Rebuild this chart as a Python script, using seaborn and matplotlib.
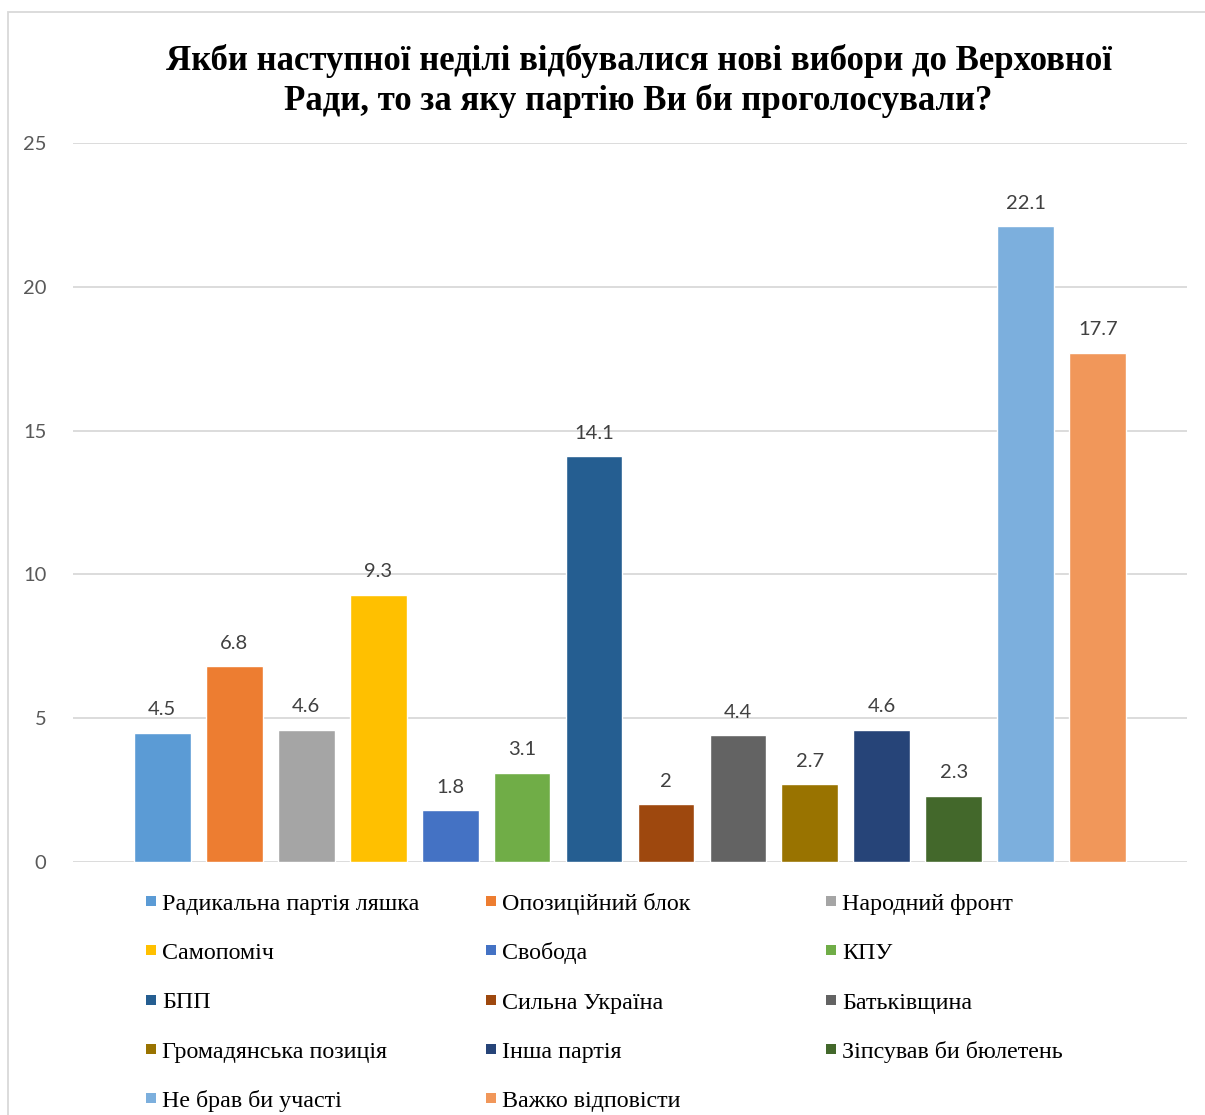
import matplotlib
matplotlib.use("Agg")
import matplotlib.pyplot as plt
from matplotlib.patches import Rectangle
import seaborn as sns
import pandas as pd

parties = ["Радикальна партія ляшка", "Опозиційний блок", "Народний фронт",
           "Самопоміч", "Свобода", "КПУ", "БПП", "Сильна Україна", "Батьківщина",
           "Громадянська позиція", "Інша партія", "Зіпсував би бюлетень",
           "Не брав би участі", "Важко відповісти"]
values = [4.5, 6.8, 4.6, 9.3, 1.8, 3.1, 14.1, 2, 4.4, 2.7, 4.6, 2.3, 22.1, 17.7]
colors = ["#5B9BD5", "#ED7D31", "#A5A5A5", "#FFC000", "#4472C4", "#70AD47",
          "#255E91", "#9E480E", "#636363", "#997300", "#264478", "#43682B",
          "#7CAFDD", "#F1975A"]
yticks = [0, 5, 10, 15, 20, 25]
title = "Якби наступної неділі відбувалися нові вибори до Верховної\nРади, то за яку партію Ви би проголосували?"

sns.set_theme(style="white")
plt.rcParams['font.family'] = ['Lato', 'DejaVu Sans']
serif = ["Liberation Serif", "DejaVu Serif"]

df = pd.DataFrame({"party": parties, "value": values})

W, H = 1205, 1115
fig = plt.figure(figsize=(W / 100, H / 100), dpi=100)
ax = fig.add_axes([73 / W, 1 - 862 / H, (1187 - 73) / W, (862 - 143) / H])

sns.barplot(data=df, x="party", y="value", hue="party", order=parties,
            hue_order=parties, palette=colors, width=0.79, legend=False,
            saturation=1, ax=ax, dodge=False)

ax.set_xlim(-1.24, 14.24)
ax.set_ylim(0, 25)
ax.set_yticks(yticks)
ax.set_yticklabels([str(t) for t in yticks], fontsize=14.5, color="#595959")
ax.tick_params(axis="y", length=0, pad=19)
ax.set_xticks([])
ax.set_xlabel("")
ax.set_ylabel("")
ax.grid(axis="y", color="#D9D9D9", linewidth=1.3)
ax.set_axisbelow(True)
for s in ax.spines.values():
    s.set_visible(False)

for cont in ax.containers:
    ax.bar_label(cont, labels=[f"{v:g}" for v in cont.datavalues], padding=10.5,
                 fontsize=14.5, color="#404040")

fig.text(0.530, 1 - 81 / H, title, ha="center", va="center",
         multialignment="center", fontsize=25, fontweight="bold",
         family=serif, linespacing=1.2, color="black")

# legend: three columns, row-wise ordering (Excel style)
col_x = [146, 486, 826]
row_base = [910, 959, 1008.5, 1058, 1107]
for i, (name, c) in enumerate(zip(parties, colors)):
    r, ci = divmod(i, 3)
    x = col_x[ci]
    yb = row_base[r]
    fig.patches.append(Rectangle((x / W, 1 - (yb - 4) / H), 10 / W, 10 / H,
                                 transform=fig.transFigure, facecolor=c,
                                 edgecolor="none"))
    fig.text((x + 16) / W, 1 - yb / H, name, ha="left", va="baseline",
             fontsize=17.3, family=serif, color="black")

# chart frame
fig.patches.append(Rectangle((8 / W, -0.05), 1.1, 1 - 12 / H + 0.05,
                             transform=fig.transFigure, fill=False,
                             edgecolor="#D9D9D9", linewidth=1.3, zorder=0))

fig.savefig("out.png", dpi=100)
